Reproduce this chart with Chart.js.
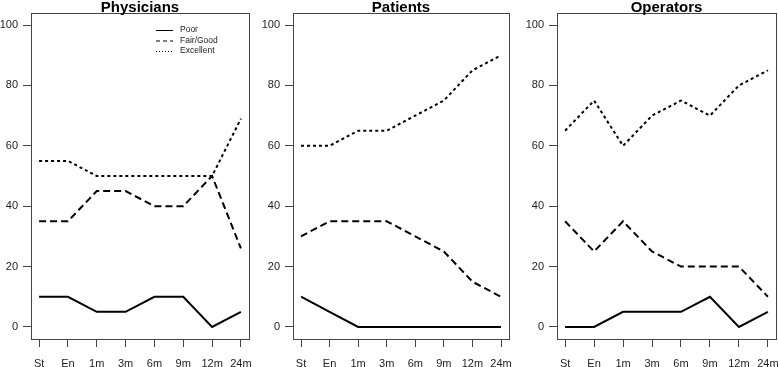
<!DOCTYPE html>
<html>
<head>
<meta charset="utf-8">
<script src="https://cdn.jsdelivr.net/npm/chart.js@4/dist/chart.umd.min.js"></script>
<style>
  body { margin: 0; background: #fff; }
  #wrap { position: relative; width: 778px; height: 367px; overflow: hidden; }
  canvas { position: absolute; top: 0; }
</style>
</head>
<body>
<div id="wrap">
  <canvas id="c1" width="260" height="367" style="left:0px"></canvas>
  <canvas id="c2" width="258" height="367" style="left:262px"></canvas>
  <canvas id="c3" width="252" height="367" style="left:526px"></canvas>
</div>
<script>
// time points
const categories = ['St', 'En', '1m', '3m', '6m', '9m', '12m', '24m'];
const yTicks = [0, 20, 40, 60, 80, 100];
const seriesNames = ['Poor', 'Fair/Good', 'Excellent'];

// % ratings per group
const physPoor = [10, 10, 5, 5, 10, 10, 0, 5];
const physFair = [35, 35, 45, 45, 40, 40, 50, 26];
const physExc  = [55, 55, 50, 50, 50, 50, 50, 69];

const patPoor = [10, 5, 0, 0, 0, 0, 0, 0];
const patFair = [30, 35, 35, 35, 30, 25, 15, 10];
const patExc  = [60, 60, 65, 65, 70, 75, 85, 90];

const opPoor = [0, 0, 5, 5, 5, 10, 0, 5];
const opFair = [35, 25, 35, 25, 20, 20, 20, 10];
const opExc  = [65, 75, 60, 70, 75, 70, 80, 85];

const dashes = [[], [7, 4], [3, 3]];

const boxPlugin = {
  id: 'box',
  afterDraw(chart) {
    const a = chart.chartArea, ctx = chart.ctx;
    ctx.save();
    ctx.strokeStyle = '#444';
    ctx.lineWidth = 1;
    ctx.strokeRect(Math.round(a.left) + 0.5, Math.round(a.top) + 0.5,
      Math.round(a.right - a.left), Math.round(a.bottom - a.top));
    // title
    const t = chart.options.plugins.panelTitle.text;
    ctx.fillStyle = '#000';
    ctx.font = 'bold 15px "Liberation Sans", Arial, sans-serif';
    ctx.textAlign = 'center';
    ctx.textBaseline = 'alphabetic';
    ctx.fillText(t, (a.left + a.right) / 2, 12);
    ctx.restore();
  }
};

const legendPlugin = {
  id: 'innerLegend',
  afterDraw(chart) {
    if (!chart.options.plugins.innerLegend.show) return;
    const ctx = chart.ctx;
    ctx.save();
    ctx.font = '8.5px "Liberation Sans", Arial, sans-serif';
    ctx.textBaseline = 'middle';
    ctx.fillStyle = '#222';
    chart.data.datasets.forEach((ds, i) => {
      const y = 30 + i * 10.5;
      ctx.strokeStyle = '#000';
      ctx.lineWidth = 1;
      ctx.setLineDash(i === 2 ? [1, 2] : (i === 1 ? [4, 3] : []));
      ctx.beginPath();
      ctx.moveTo(156, y + 0.5);
      ctx.lineTo(173, y + 0.5);
      ctx.stroke();
      ctx.setLineDash([]);
      ctx.fillText(ds.label, 180, y);
    });
    ctx.restore();
  }
};

function makeChart(id, title, arrs, showLegend, padRight) {
  const datasets = arrs.map((vals, i) => ({
    label: seriesNames[i],
    data: vals.map((v, j) => ({ x: j + 1, y: v })),
    borderColor: '#000',
    borderWidth: 2,
    borderDash: dashes[i],
    pointRadius: 0,
    tension: 0,
    fill: false
  }));
  return new Chart(document.getElementById(id), {
    type: 'line',
    data: { datasets },
    options: {
      responsive: false,
      animation: false,
      devicePixelRatio: 1,
      layout: { padding: { top: 13, right: padRight, left: 0, bottom: 0 } },
      plugins: {
        legend: { display: false },
        tooltip: { enabled: false },
        panelTitle: { text: title },
        innerLegend: { show: showLegend }
      },
      scales: {
        x: {
          type: 'linear',
          min: 0.72,
          max: 8.28,
          afterBuildTicks: s => { s.ticks = categories.map((c, i) => ({ value: i + 1 })); },
          afterFit: s => { s.height = 28; s.paddingLeft = 0; s.paddingRight = 0; },
          ticks: {
            callback: v => categories[v - 1],
            autoSkip: false,
            maxRotation: 0,
            padding: 10,
            color: '#222',
            font: { size: 11, family: '"Liberation Sans", Arial, sans-serif' }
          },
          grid: { drawOnChartArea: false, tickLength: 8, color: '#444' },
          border: { display: false }
        },
        y: {
          min: -4,
          max: 104,
          afterBuildTicks: s => { s.ticks = yTicks.map(v => ({ value: v })); },
          afterFit: s => { s.width = 31; },
          ticks: {
            padding: 5,
            color: '#222',
            font: { size: 11, family: '"Liberation Sans", Arial, sans-serif' }
          },
          grid: { drawOnChartArea: false, tickLength: 8, color: '#444' },
          border: { display: false }
        }
      }
    },
    plugins: [boxPlugin, legendPlugin]
  });
}

makeChart('c1', 'Physicians', [physPoor, physFair, physExc], true, 11);
makeChart('c2', 'Patients', [patPoor, patFair, patExc], false, 11);
makeChart('c3', 'Operators', [opPoor, opFair, opExc], false, 2);
</script>
</body>
</html>
